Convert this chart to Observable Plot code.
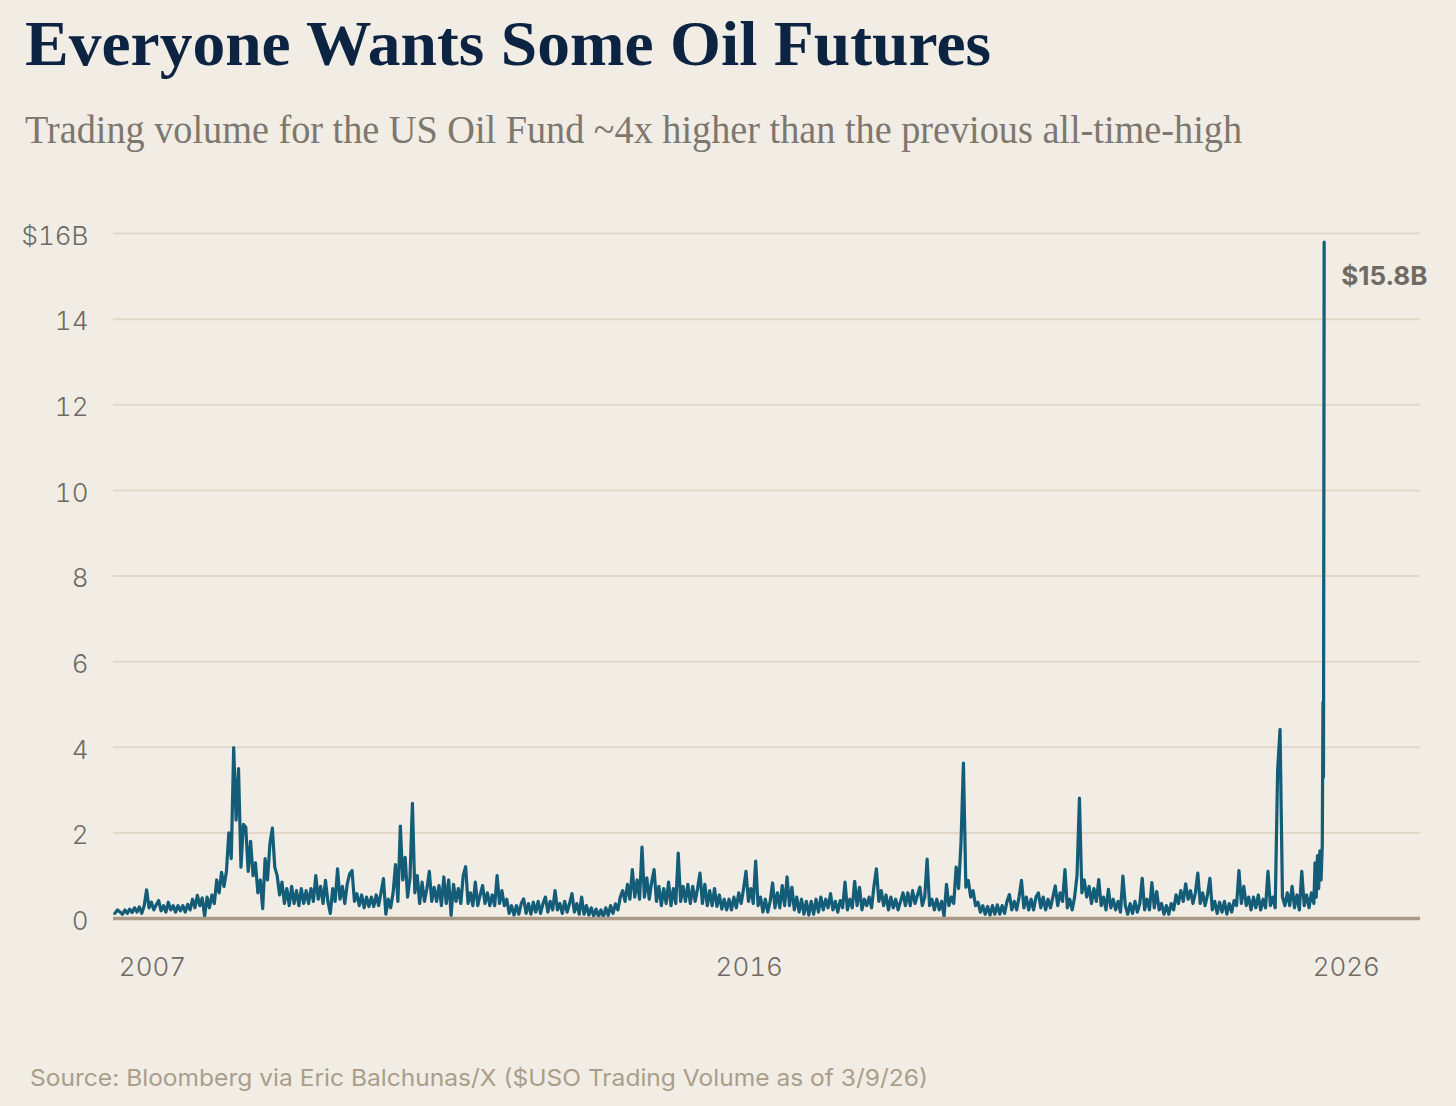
<!DOCTYPE html>
<html><head><meta charset="utf-8">
<script src="https://cdn.jsdelivr.net/npm/d3@7"></script>
<script src="https://cdn.jsdelivr.net/npm/@observablehq/plot@0.6"></script>
<style>
html,body{margin:0;padding:0;background:#f1ece4;}
#wrap{width:1456px;height:1106px;background:#f1ece4;overflow:hidden;}
svg{display:block;}
</style></head><body><div id="wrap"></div>
<script>
// ---- Text ----
const titleText = "Everyone Wants Some Oil Futures";
const subtitleText = "Trading volume for the US Oil Fund ~4x higher than the previous all-time-high";
const sourceText = "Source: Bloomberg via Eric Balchunas/X ($USO Trading Volume as of 3/9/26)";

// ---- Axis ticks ----
const yTicks = [0, 2, 4, 6, 8, 10, 12, 14, 16];
const xTickDates = ["2007-01-01", "2016-07-01", "2026-01-01"];
const xTickLabels = ["2007", "2016", "2026"];

// ---- USO trading volume, $ billions (roughly bi-weekly readings per year) ----
const vol2006 = [0.12, 0.2];
const vol2007 = [0.15,0.10,0.2,0.12,0.22,0.14,0.25,0.15,0.27,0.12,0.3,0.67,0.25,0.38,0.2,0.32,0.42,0.18,0.3,0.15,0.38,0.2,0.3,0.15,0.3,0.18];
const vol2008 = [0.3,0.15,0.33,0.2,0.45,0.25,0.54,0.3,0.48,0.05,0.5,0.25,0.55,0.35,0.9,0.6,1.08,0.75,1.1,2.0,1.4,3.99,2.3,3.5,1.2,2.2];
const vol2009 = [2.13,1.1,1.8,1.0,1.3,0.6,0.9,0.23,1.4,0.9,1.75,2.11,1.2,1.0,0.55,0.85,0.35,0.7,0.3,0.75,0.35,0.65,0.3,0.7,0.35,0.65];
const vol2010 = [0.35,0.7,0.4,1.0,0.45,0.75,0.35,0.89,0.4,0.12,0.7,0.4,1.16,0.45,0.75,0.35,0.8,1.04,1.12,0.4,0.58,0.3,0.55,0.25,0.5,0.28];
const vol2011 = [0.5,0.28,0.55,0.3,0.6,0.93,0.1,0.45,0.25,0.6,1.26,0.4,2.16,0.9,1.43,0.5,0.95,2.69,0.6,1.0,0.35,0.85,0.4,0.7,1.1,0.4];
const vol2012 = [0.73,0.4,0.77,0.3,0.97,0.35,0.9,0.07,0.8,0.4,0.7,0.35,1.0,1.21,0.35,0.6,0.3,0.85,0.3,0.55,0.77,0.35,0.6,0.3,0.55,0.3];
const vol2013 = [1.0,0.35,0.65,0.3,0.45,0.12,0.3,0.08,0.3,0.1,0.35,0.46,0.12,0.35,0.1,0.38,0.15,0.4,0.12,0.35,0.5,0.15,0.4,0.2,0.65,0.2];
const vol2014 = [0.35,0.12,0.4,0.15,0.35,0.58,0.15,0.35,0.1,0.5,0.1,0.3,0.08,0.25,0.06,0.22,0.05,0.2,0.04,0.25,0.07,0.3,0.12,0.34,0.2,0.5];
const vol2015 = [0.65,0.4,0.8,0.45,1.14,0.5,0.9,0.45,1.67,0.5,0.95,0.45,0.85,1.14,0.4,0.75,0.3,0.7,0.35,0.85,0.3,0.7,0.35,1.53,0.4,0.75];
const vol2016 = [0.4,0.8,0.35,0.75,0.4,0.7,1.06,0.35,0.8,0.3,0.65,0.3,0.7,0.28,0.55,0.22,0.45,0.2,0.45,0.2,0.5,0.25,0.6,0.35,0.7,1.1];
const vol2017 = [0.4,0.7,0.35,1.34,0.3,0.5,0.15,0.45,0.15,0.4,0.83,0.25,0.6,0.25,0.77,0.3,0.97,0.3,0.73,0.2,0.5,0.15,0.45,0.1,0.4,0.08];
const vol2018 = [0.4,0.1,0.45,0.15,0.5,0.2,0.45,0.25,0.58,0.2,0.4,0.15,0.42,0.25,0.85,0.2,0.45,0.25,0.87,0.3,0.73,0.2,0.45,0.3,0.5,0.25];
const vol2019 = [0.76,1.16,0.4,0.65,0.3,0.55,0.2,0.5,0.25,0.45,0.2,0.4,0.6,0.3,0.6,0.3,0.65,0.35,0.55,0.73,0.3,0.5,1.39,0.3,0.45,0.2];
const vol2020 = [0.45,0.2,0.4,0.05,0.8,0.3,0.5,0.35,1.2,0.7,1.78,3.63,0.73,0.89,0.5,0.65,0.3,0.38,0.15,0.3,0.1,0.28,0.08,0.3,0.1,0.32];
const vol2021 = [0.1,0.3,0.12,0.4,0.56,0.2,0.4,0.2,0.5,0.89,0.25,0.5,0.2,0.45,0.2,0.5,0.6,0.25,0.5,0.2,0.45,0.25,0.5,0.76,0.3,0.6];
const vol2022 = [0.4,1.14,0.25,0.45,0.2,0.5,1.0,2.81,0.6,0.9,0.5,0.75,0.35,0.7,0.4,0.91,0.3,0.5,0.2,0.68,0.25,0.45,0.2,0.4,0.15,0.99];
const vol2023 = [0.3,0.1,0.35,0.12,0.4,0.15,0.35,0.94,0.2,0.45,0.2,0.84,0.25,0.63,0.2,0.35,0.1,0.3,0.1,0.35,0.2,0.55,0.35,0.65,0.4,0.81];
const vol2024 = [0.45,0.65,0.35,0.6,1.06,0.35,0.6,0.3,0.55,0.94,0.2,0.4,0.12,0.38,0.15,0.4,0.1,0.35,0.15,0.42,0.3,1.12,0.35,0.75,0.3,0.5];
const vol2025 = [0.2,0.5,0.25,0.55,0.2,0.45,0.25,1.1,0.3,0.5,0.25,3.47,4.42,0.5,0.3,0.6,0.3,0.75,0.25,0.55,0.2,1.1,0.3,0.55,0.25,0.6];
const dates2026 = ["2026-01-08","2026-01-15","2026-01-22","2026-01-29","2026-02-05","2026-02-12","2026-02-19","2026-02-26","2026-03-02","2026-03-05","2026-03-09"];
const vol2026 = [0.35,1.3,0.5,1.47,0.7,1.58,0.9,1.7,5.05,3.3,15.8];

// ---- Build the table ----
function spread(start, end, values) {
  const t0 = new Date(start).getTime(), t1 = new Date(end).getTime();
  const step = (t1 - t0) / values.length;
  return values.map((v, i) => ({date: new Date(t0 + (i + 0.5) * step), value: v}));
}
const yearly = [
  [2007, vol2007],[2008, vol2008],[2009, vol2009],[2010, vol2010],[2011, vol2011],
  [2012, vol2012],[2013, vol2013],[2014, vol2014],[2015, vol2015],[2016, vol2016],
  [2017, vol2017],[2018, vol2018],[2019, vol2019],[2020, vol2020],[2021, vol2021],
  [2022, vol2022],[2023, vol2023],[2024, vol2024],[2025, vol2025]
];
let data = spread("2006-12-01", "2007-01-01", vol2006);
for (const [y, arr] of yearly) data = data.concat(spread(`${y}-01-01`, `${y + 1}-01-01`, arr));
data = data.concat(dates2026.map((d, i) => ({date: new Date(d), value: vol2026[i]})));
const last = data[data.length - 1];

// ---- Header ----
const wrap = document.getElementById("wrap");
const header = d3.create("svg").attr("width", 1456).attr("height", 180);
header.append("text").attr("x", 25).attr("y", 65)
  .attr("font-family", "'Liberation Serif', 'DejaVu Serif', serif").attr("font-weight", "bold")
  .attr("font-size", 64).attr("fill", "#0c2342")
  .attr("textLength", 966).attr("lengthAdjust", "spacingAndGlyphs").text(titleText);
header.append("text").attr("x", 25).attr("y", 143)
  .attr("font-family", "'Liberation Serif', 'DejaVu Serif', serif")
  .attr("font-size", 39).attr("fill", "#7d776f")
  .attr("textLength", 1217).attr("lengthAdjust", "spacingAndGlyphs").text(subtitleText);
wrap.appendChild(header.node());

// ---- Chart ----
const chart = Plot.plot({
  width: 1456,
  height: 820,
  marginLeft: 113,
  marginRight: 36,
  marginTop: 53,
  marginBottom: 82,
  style: {background: "transparent", fontFamily: "Inter, 'Noto Sans', sans-serif", overflow: "visible"},
  x: {type: "utc", domain: [new Date("2006-12-01"), new Date("2027-09-20")]},
  y: {domain: [0, 16]},
  marks: [
    Plot.ruleY(yTicks.filter(d => d > 0), {stroke: "#e3d8c7", strokeWidth: 2}),
    Plot.line(data, {x: "date", y: "value", stroke: "#145d78", strokeWidth: 3.2, strokeLinejoin: "round"}),
    Plot.ruleY([0], {stroke: "#a89a86", strokeWidth: 3.5}),
    Plot.axisY({ticks: yTicks, tickSize: 0, tickPadding: 25, dy: 3, label: null,
      tickFormat: d => d === 16 ? "$16B" : String(d), fontSize: 26, fontWeight: 300, fill: "#6f6a64"}),
    Plot.axisX({ticks: xTickDates.map(d => new Date(d)), tickSize: 0, tickPadding: 39, label: null,
      tickFormat: (d, i) => xTickLabels[i], textAnchor: "start", fontSize: 26, fontWeight: 300, fill: "#6f6a64"}),
    Plot.text([last], {x: "date", y: "value", text: d => `$${d.value}B`, dx: 17, dy: 35,
      textAnchor: "start", fontSize: 26, fontWeight: "bold", fill: "#6f6a64"})
  ]
});
wrap.appendChild(chart);

// ---- Footer ----
const footer = d3.create("svg").attr("width", 1456).attr("height", 106);
footer.append("text").attr("x", 30).attr("y", 86)
  .attr("font-family", "Inter, 'Noto Sans', sans-serif").attr("font-size", 23)
  .attr("fill", "#aa9e8a")
  .attr("textLength", 898).attr("lengthAdjust", "spacingAndGlyphs").text(sourceText);
wrap.appendChild(footer.node());
</script></body></html>
